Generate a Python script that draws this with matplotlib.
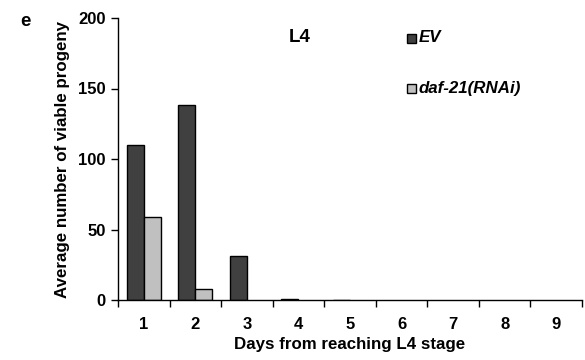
import matplotlib
matplotlib.use("Agg")
import matplotlib.pyplot as plt
import numpy as np

days = [1, 2, 3, 4, 5, 6, 7, 8, 9]
ev = [110, 138, 31, 0.5, 0.3, 0, 0, 0, 0]
daf21 = [59, 8, 0, 0, 0, 0, 0, 0, 0]
yticks = [0, 50, 100, 150, 200]

plt.rcParams['font.family'] = ['Liberation Sans', 'DejaVu Sans']
plt.rcParams['font.weight'] = 'bold'

fig = plt.figure(figsize=(5.85, 3.6), dpi=100)
ax = fig.add_axes([118/585, 1-300/360, (582-118)/585, (300-18)/360])

x = np.arange(len(days))
w = 0.33
ev_lw = [1.0 if v > 0 else 0 for v in ev]
daf_lw = [1.0 if v > 0 else 0 for v in daf21]
ax.bar(x - w/2, ev, w, color='#404040', edgecolor='black', linewidth=ev_lw, label='EV')
ax.bar(x + w/2, daf21, w, color='#c0c0c0', edgecolor='black', linewidth=daf_lw, label='daf-21(RNAi)')

ax.set_xlim(-0.5, len(days) - 0.5)
ax.set_ylim(0, 200)
ax.set_yticks(yticks)
ax.set_yticklabels([str(v) for v in yticks], fontsize=12, fontweight='bold')
ax.set_xticks(x)
ax.set_xticklabels([str(d) for d in days], fontsize=12, fontweight='bold')
ax.tick_params(axis='x', length=0, pad=12)
ax.set_xticks(np.arange(-0.5, len(days)), minor=True)
ax.tick_params(axis='x', which='minor', length=5, width=1, direction='out')
ax.tick_params(axis='y', length=5, width=1, direction='out', pad=4)
for s in ['top', 'right']:
    ax.spines[s].set_visible(False)
ax.spines['left'].set_linewidth(1)
ax.spines['bottom'].set_linewidth(1)

ax.set_ylabel('Average number of viable progeny', fontsize=12.2, fontweight='bold', labelpad=6)
ax.set_xlabel('Days from reaching L4 stage', fontsize=12.2, fontweight='bold', labelpad=4)

fig.text(20/585, 1-21/360, 'e', fontsize=13.5, fontweight='bold', ha='left', va='center')
fig.text(300/585, 1-38/360, 'L4', fontsize=13.5, fontweight='bold', ha='center', va='center')

# legend
fig.patches.append(plt.Rectangle((407/585, 1-43/360), 9/585, 9/360, transform=fig.transFigure,
                                 facecolor='#404040', edgecolor='black', linewidth=1))
fig.text(419/585, 1-38/360, 'EV', fontsize=12.2, fontweight='bold', style='italic', ha='left', va='center')
fig.patches.append(plt.Rectangle((407/585, 1-93/360), 9/585, 9/360, transform=fig.transFigure,
                                 facecolor='#c0c0c0', edgecolor='black', linewidth=1))
fig.text(419/585, 1-88/360, 'daf-21(RNAi)', fontsize=12.2, fontweight='bold', style='italic', ha='left', va='center')

fig.savefig('out.png', dpi=100)
